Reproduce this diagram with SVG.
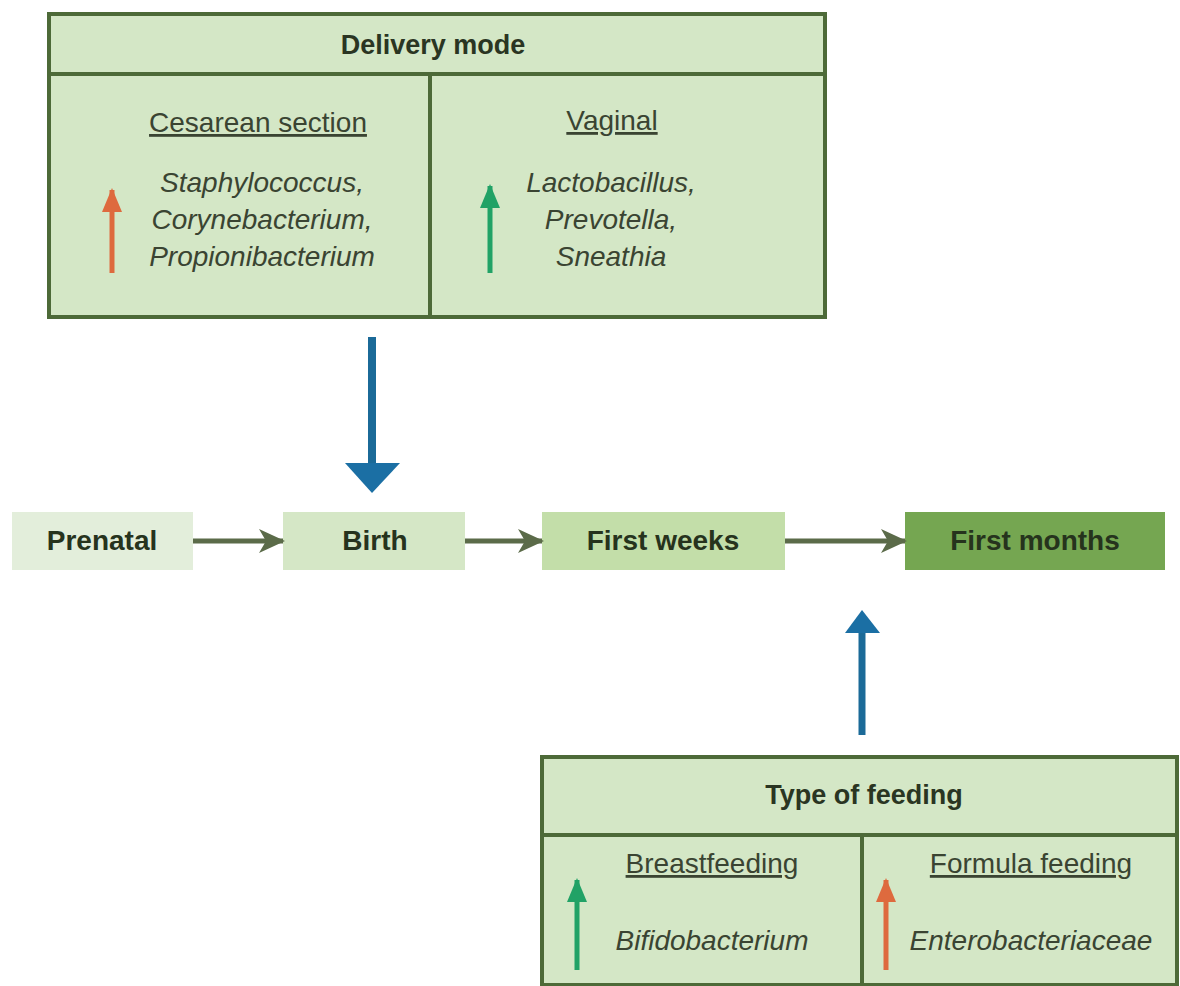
<svg xmlns="http://www.w3.org/2000/svg" width="1180" height="986" viewBox="0 0 1180 986">
<style>
.box{fill:#d4e7c6;stroke:#4d6a38;stroke-width:4}
.sep{stroke:#4d6a38;stroke-width:4}
.title{font-family:"Liberation Sans",Arial,sans-serif;font-weight:bold;font-size:27px;fill:#2a3522;text-anchor:middle}
.sub{font-family:"Liberation Sans",Arial,sans-serif;font-size:28px;fill:#3a4432;text-anchor:middle;text-decoration:underline}
.sp{font-family:"Liberation Sans",Arial,sans-serif;font-style:italic;font-size:28px;fill:#3a4432;text-anchor:middle}
.tl{font-family:"Liberation Sans",Arial,sans-serif;font-weight:bold;font-size:28px;fill:#26331d;text-anchor:middle}
.flow{stroke:#5b6b49;stroke-width:5;fill:none}
.blue{stroke:#1b6a98;stroke-width:8;fill:none}
.up-o{stroke:#de6a3e;stroke-width:5;fill:none}
.up-g{stroke:#21a266;stroke-width:5;fill:none}
</style>
<defs>
<marker id="mFlow" markerUnits="userSpaceOnUse" markerWidth="28" markerHeight="26" refX="24" refY="13" orient="auto">
<path d="M0,1 L26,13 L0,25 L7,13 Z" fill="#5b6b49"/>
</marker>
<marker id="mOrange" markerUnits="userSpaceOnUse" markerWidth="26" markerHeight="22" refX="22" refY="10" orient="auto">
<path d="M0,0 L24,10 L0,20 Z" fill="#de6a3e"/>
</marker>
<marker id="mGreen" markerUnits="userSpaceOnUse" markerWidth="26" markerHeight="22" refX="22" refY="10" orient="auto">
<path d="M0,0 L24,10 L0,20 Z" fill="#21a266"/>
</marker>
</defs>
<rect width="1180" height="986" fill="#ffffff"/>

<g id="delivery-mode">
<rect class="box" x="49" y="14" width="776" height="303"/>
<line class="sep" x1="49" y1="74" x2="825" y2="74"/>
<line class="sep" x1="430" y1="74" x2="430" y2="317"/>
<text class="title" x="433" y="54">Delivery mode</text>
<text class="sub" x="258" y="132">Cesarean section</text>
<text class="sp" x="262" y="192">Staphylococcus,</text>
<text class="sp" x="262" y="229">Corynebacterium,</text>
<text class="sp" x="262" y="266">Propionibacterium</text>
<line class="up-o" x1="112" y1="273" x2="112" y2="190" marker-end="url(#mOrange)"/>
<text class="sub" x="612" y="130">Vaginal</text>
<text class="sp" x="611" y="192">Lactobacillus,</text>
<text class="sp" x="611" y="229">Prevotella,</text>
<text class="sp" x="611" y="266">Sneathia</text>
<line class="up-g" x1="490" y1="273" x2="490" y2="186" marker-end="url(#mGreen)"/>
</g>

<g id="prenatal">
<rect x="12" y="512" width="181" height="58" fill="#e3eedb"/>
<text class="tl" x="102" y="550">Prenatal</text>
</g>
<g id="birth">
<rect x="283" y="512" width="182" height="58" fill="#d5e7c6"/>
<text class="tl" x="375" y="550">Birth</text>
</g>
<g id="first-weeks">
<rect x="542" y="512" width="243" height="58" fill="#c3dea9"/>
<text class="tl" x="663" y="550">First weeks</text>
</g>
<g id="first-months">
<rect x="905" y="512" width="260" height="58" fill="#75a651"/>
<text class="tl" x="1035" y="550">First months</text>
</g>

<g id="type-of-feeding">
<rect class="box" x="542" y="757" width="635" height="228"/>
<line class="sep" x1="542" y1="835" x2="1177" y2="835"/>
<line class="sep" x1="862" y1="835" x2="862" y2="985"/>
<text class="title" x="864" y="804">Type of feeding</text>
<text class="sub" x="712" y="873">Breastfeeding</text>
<text class="sp" x="712" y="950">Bifidobacterium</text>
<line class="up-g" x1="577" y1="970" x2="577" y2="880" marker-end="url(#mGreen)"/>
<text class="sub" x="1031" y="873">Formula feeding</text>
<text class="sp" x="1031" y="950">Enterobacteriaceae</text>
<line class="up-o" x1="886" y1="970" x2="886" y2="880" marker-end="url(#mOrange)"/>
</g>

<g id="connectors">
<line class="flow" x1="193" y1="541" x2="283" y2="541" marker-end="url(#mFlow)"/>
<line class="flow" x1="465" y1="541" x2="542" y2="541" marker-end="url(#mFlow)"/>
<line class="flow" x1="785" y1="541" x2="905" y2="541" marker-end="url(#mFlow)"/>
<line class="blue" x1="372" y1="337" x2="372" y2="465"/>
<polygon points="345,463 400,463 372,493" fill="#1b6fa4"/>
<line class="blue" x1="862" y1="735" x2="862" y2="630" style="stroke-width:7"/>
<polygon points="845,633 880,633 862,610" fill="#1b6fa4"/>
</g>
</svg>
